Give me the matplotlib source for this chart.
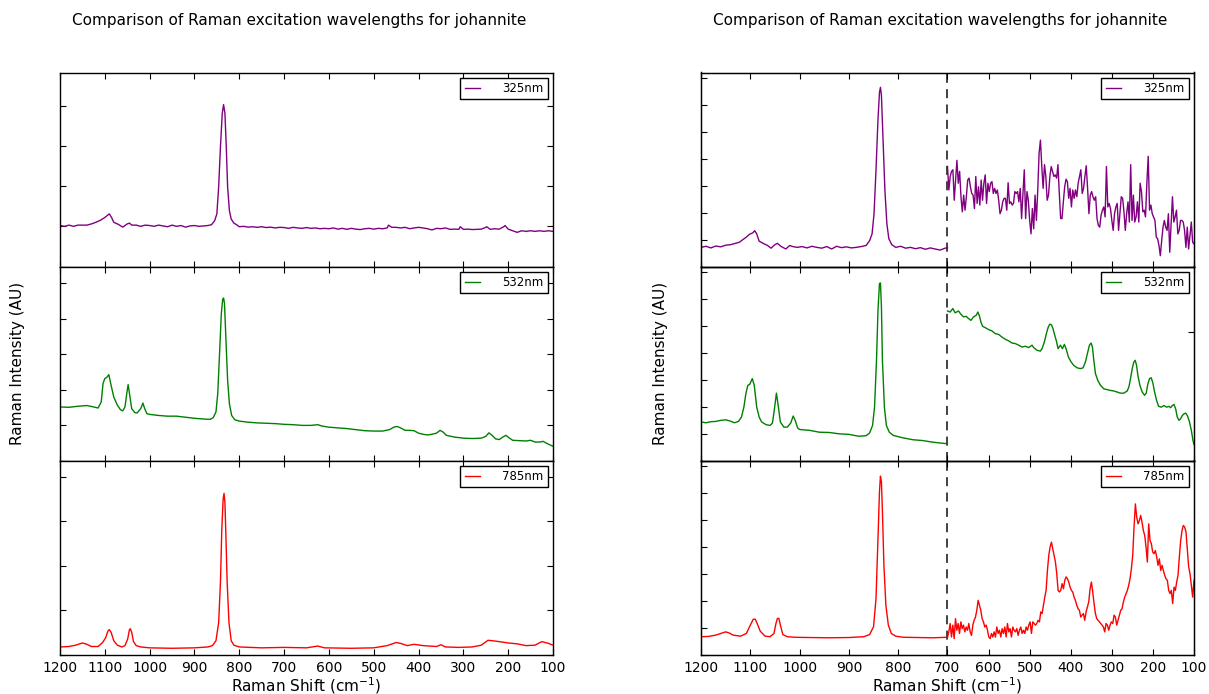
import numpy as np
import matplotlib
matplotlib.use("Agg")
import matplotlib.pyplot as plt
from matplotlib.ticker import MultipleLocator, NullFormatter

plt.rcParams['font.family'] = ['DejaVu Sans']

# ---------------- data (Raman shift in cm^-1, intensity in arbitrary units) -------------
shift_ticks = [1200, 1100, 1000, 900, 800, 700, 600, 500, 400, 300, 200, 100]
labels = ['325nm', '532nm', '785nm']
colors = ['purple', 'green', 'red']

# ---- left column: full spectra
l325_x = [1200, 1190, 1180, 1170, 1160, 1150, 1140, 1130, 1120, 1110, 1100, 1090, 1085, 1080, 1070,
          1060, 1050, 1045, 1040, 1030, 1020, 1010, 1000, 990, 980, 970, 960, 950, 940, 930, 920, 910,
          900, 890, 880, 870, 862, 855, 850, 846, 842, 838, 835, 832, 829, 826, 822, 818, 812, 806,
          800, 790, 780, 770, 760, 750, 740, 730, 720, 710, 700, 690, 680, 670, 660, 650, 640, 630,
          620, 610, 600, 590, 580, 570, 560, 550, 540, 530, 520, 510, 500, 490, 480, 470, 467, 460,
          450, 440, 430, 420, 410, 400, 390, 380, 370, 360, 350, 340, 330, 320, 310, 307, 300, 290,
          280, 270, 260, 250, 248, 240, 230, 220, 210, 207, 200, 190, 180, 170, 160, 150, 140, 130,
          120, 110, 100]
l325_y = [1.02, 1.00, 1.03, 1.00, 1.03, 1.03, 1.03, 1.06, 1.10, 1.15, 1.22, 1.31, 1.22, 1.10, 1.05,
          0.98, 1.06, 1.08, 1.03, 1.03, 1.00, 1.03, 1.02, 1.00, 1.03, 1.01, 0.99, 1.03, 1.00, 1.02,
          0.98, 1.01, 1.02, 1.00, 1.01, 1.02, 1.04, 1.14, 1.31, 1.98, 2.98, 3.81, 4.03, 3.81, 2.98,
          1.98, 1.39, 1.18, 1.08, 1.04, 0.99, 1.00, 0.98, 0.99, 0.975, 0.99, 0.97, 0.98, 0.96, 0.975,
          0.97, 0.95, 0.975, 0.96, 0.95, 0.97, 0.95, 0.96, 0.94, 0.95, 0.94, 0.96, 0.93, 0.95, 0.925,
          0.95, 0.93, 0.92, 0.94, 0.95, 0.93, 0.95, 0.94, 0.96, 1.03, 0.975, 0.975, 0.96, 0.975, 0.94,
          0.96, 0.975, 0.96, 0.94, 0.91, 0.95, 0.94, 0.96, 0.925, 0.93, 0.925, 0.99, 0.925, 0.93,
          0.92, 0.925, 0.93, 0.975, 0.99, 0.925, 0.94, 0.93, 0.99, 1.02, 0.93, 0.89, 0.85, 0.89,
          0.875, 0.89, 0.875, 0.89, 0.875, 0.89, 0.875]

l532_x = [1200, 1180, 1160, 1150, 1140, 1125, 1115, 1108, 1104, 1100, 1096, 1091, 1086, 1080, 1072,
          1065, 1060, 1055, 1051, 1048, 1045, 1040, 1033, 1028, 1020, 1015, 1011, 1006, 1000, 980,
          960, 940, 920, 900, 880, 865, 858, 852, 848, 844, 840, 837, 835, 833, 830, 826, 822, 817,
          810, 800, 780, 760, 740, 720, 700, 680, 660, 640, 625, 615, 600, 580, 560, 540, 520, 500,
          480, 465, 455, 448, 440, 430, 420, 410, 400, 390, 380, 370, 360, 352, 345, 338, 320, 300,
          280, 260, 250, 243, 236, 228, 220, 212, 205, 198, 190, 175, 160, 150, 140, 130, 122, 115, 100]
l532_y = [1.51, 1.50, 1.53, 1.54, 1.55, 1.51, 1.48, 1.65, 2.17, 2.31, 2.34, 2.42, 2.12, 1.79, 1.56,
          1.43, 1.40, 1.51, 1.89, 2.14, 1.89, 1.46, 1.35, 1.34, 1.46, 1.62, 1.46, 1.32, 1.30, 1.27,
          1.25, 1.25, 1.22, 1.19, 1.17, 1.16, 1.21, 1.37, 1.89, 3.02, 4.15, 4.55, 4.58, 4.43, 3.49,
          2.26, 1.60, 1.27, 1.15, 1.11, 1.08, 1.06, 1.05, 1.04, 1.02, 1.01, 0.99, 0.99, 1.01, 0.97,
          0.94, 0.92, 0.90, 0.87, 0.84, 0.83, 0.83, 0.87, 0.94, 0.96, 0.92, 0.85, 0.85, 0.84, 0.77,
          0.74, 0.72, 0.74, 0.77, 0.85, 0.80, 0.71, 0.66, 0.63, 0.62, 0.63, 0.68, 0.78, 0.71, 0.61,
          0.59, 0.66, 0.71, 0.64, 0.57, 0.56, 0.55, 0.57, 0.52, 0.52, 0.54, 0.49, 0.40]

l785_x = [1200, 1180, 1165, 1150, 1140, 1130, 1115, 1105, 1098, 1093, 1090, 1086, 1080, 1072, 1062,
          1055, 1049, 1045, 1043, 1040, 1036, 1030, 1020, 1000, 950, 900, 870, 860, 852, 846, 842,
          839, 836, 834, 832, 830, 827, 823, 818, 812, 800, 750, 700, 650, 625, 610, 550, 500, 470,
          450, 440, 425, 410, 390, 360, 350, 340, 310, 280, 260, 245, 235, 220, 200, 180, 160, 140,
          125, 110, 100]
l785_y = [0.17, 0.18, 0.21, 0.26, 0.23, 0.18, 0.18, 0.27, 0.38, 0.53, 0.56, 0.50, 0.31, 0.21, 0.17,
          0.20, 0.35, 0.56, 0.58, 0.50, 0.29, 0.20, 0.17, 0.15, 0.14, 0.15, 0.17, 0.20, 0.31, 0.72,
          1.62, 2.82, 3.50, 3.63, 3.42, 2.74, 1.62, 0.72, 0.31, 0.21, 0.17, 0.15, 0.16, 0.15, 0.19,
          0.15, 0.14, 0.15, 0.20, 0.27, 0.25, 0.20, 0.23, 0.20, 0.18, 0.22, 0.17, 0.16, 0.17, 0.21,
          0.32, 0.31, 0.29, 0.26, 0.24, 0.20, 0.21, 0.29, 0.25, 0.21]

# ---- right column, 1200-700 cm^-1 part
r325_x = [1200, 1190, 1180, 1170, 1160, 1150, 1140, 1130, 1122, 1115, 1108, 1102, 1095, 1091, 1087,
          1082, 1072, 1065, 1058, 1050, 1045, 1038, 1028, 1020, 1014, 1005, 995, 985, 975, 965, 955,
          945, 935, 925, 915, 905, 895, 885, 875, 865, 858, 853, 849, 845, 841, 838, 836, 834, 831,
          827, 823, 819, 813, 805, 795, 785, 775, 765, 755, 745, 735, 725, 715, 705, 700]
r325_y = [0.71, 0.75, 0.69, 0.76, 0.73, 0.79, 0.81, 0.86, 0.90, 1.00, 1.09, 1.19, 1.25, 1.33, 1.21,
          0.94, 0.84, 0.78, 0.68, 0.81, 0.86, 0.75, 0.65, 0.78, 0.74, 0.71, 0.74, 0.69, 0.75, 0.71,
          0.68, 0.74, 0.65, 0.75, 0.70, 0.73, 0.69, 0.71, 0.74, 0.78, 0.96, 1.21, 1.96, 3.59, 5.46,
          6.46, 6.65, 6.34, 4.84, 2.84, 1.59, 1.03, 0.81, 0.71, 0.75, 0.68, 0.71, 0.66, 0.70, 0.64,
          0.69, 0.65, 0.61, 0.68, 0.69]

r532_x = [1200, 1190, 1180, 1170, 1160, 1150, 1140, 1132, 1124, 1118, 1113, 1109, 1105, 1101, 1096,
          1092, 1087, 1082, 1077, 1068, 1060, 1055, 1051, 1047, 1043, 1039, 1032, 1025, 1018, 1013,
          1009, 1004, 1000, 980, 960, 940, 920, 900, 880, 865, 858, 852, 848, 844, 841, 838, 836,
          834, 832, 828, 824, 818, 810, 790, 770, 750, 730, 710, 700]
r532_y = [1.43, 1.40, 1.44, 1.45, 1.49, 1.51, 1.46, 1.40, 1.45, 1.61, 1.98, 2.48, 2.79, 2.83, 3.04,
          2.79, 1.98, 1.61, 1.43, 1.33, 1.30, 1.39, 1.92, 2.50, 1.98, 1.43, 1.24, 1.24, 1.39, 1.65,
          1.49, 1.21, 1.15, 1.12, 1.05, 1.04, 0.99, 0.97, 0.90, 0.92, 1.02, 1.30, 1.98, 3.72, 5.58,
          6.57, 6.59, 5.70, 3.72, 1.98, 1.30, 1.05, 0.93, 0.84, 0.77, 0.74, 0.68, 0.64, 0.62]

r785_x = [1200, 1185, 1170, 1160, 1150, 1143, 1135, 1120, 1108, 1100, 1094, 1090, 1086, 1080, 1070,
          1060, 1052, 1048, 1045, 1042, 1039, 1034, 1025, 1010, 980, 940, 900, 870, 858, 850, 845,
          841, 838, 836, 834, 832, 829, 825, 820, 814, 805, 790, 760, 730, 700]
r785_y = [0.66, 0.67, 0.72, 0.78, 0.84, 0.80, 0.72, 0.68, 0.78, 1.09, 1.31, 1.31, 1.15, 0.87, 0.68,
          0.66, 0.78, 1.15, 1.34, 1.34, 1.09, 0.74, 0.66, 0.64, 0.63, 0.62, 0.63, 0.66, 0.74, 1.03,
          2.08, 4.31, 6.04, 6.62, 6.41, 5.30, 3.32, 1.83, 1.09, 0.78, 0.68, 0.64, 0.63, 0.62, 0.64]

# ---- right column, magnified 700-100 cm^-1 part (evenly sampled from 700 down to 100)
m325_y = [3.71, 2.84, 3.34, 3.53, 3.59, 2.46, 3.21, 3.94, 3.09, 3.53, 2.59, 2.03, 2.65, 2.09, 2.59,
          3.21, 3.28, 2.96, 2.71, 2.65, 2.15, 3.34, 2.34, 2.96, 2.28, 3.21, 2.46, 3.09, 3.40, 2.34,
          3.09, 2.78, 3.09, 3.15, 2.71, 2.90, 2.71, 2.84, 2.46, 1.96, 2.09, 2.40, 2.53, 2.53, 2.09,
          3.11, 2.34, 2.40, 2.28, 2.34, 2.78, 2.71, 2.78, 2.40, 2.90, 1.78, 2.71, 3.59, 1.78, 2.78,
          2.46, 1.71, 1.21, 2.15, 1.40, 2.65, 1.71, 2.84, 4.21, 4.69, 3.71, 2.90, 3.78, 3.34, 2.46,
          2.65, 3.34, 3.71, 3.53, 3.34, 3.40, 3.28, 3.78, 2.71, 1.78, 1.78, 2.40, 2.96, 3.24, 3.15,
          2.53, 2.90, 2.21, 2.84, 2.53, 2.84, 2.59, 3.09, 3.34, 3.59, 2.71, 2.90, 3.34, 3.74, 2.90,
          1.96, 2.65, 2.78, 2.59, 2.46, 2.59, 1.78, 1.53, 1.46, 1.90, 2.09, 2.21, 1.84, 3.71, 2.21,
          2.34, 2.15, 1.71, 1.34, 1.96, 2.21, 2.34, 1.34, 1.96, 2.59, 2.53, 2.03, 1.34, 1.96, 2.40,
          1.65, 3.78, 1.71, 2.65, 1.65, 1.84, 2.40, 1.65, 3.09, 2.78, 2.03, 2.09, 1.84, 3.09, 4.09,
          2.09, 2.28, 1.96, 1.84, 1.71, 1.09, 1.03, 0.78, 0.40, 0.96, 1.46, 1.71, 1.46, 1.34, 1.96,
          0.53, 1.59, 2.59, 1.65, 1.84, 2.09, 1.21, 1.34, 1.71, 1.71, 1.65, 1.34, 0.71, 1.46, 0.65,
          1.15, 1.65, 0.90, 0.84]

m532_x = [700, 693.5, 687, 681.3, 673.2, 667.5, 661, 654.5, 648.8, 643.1, 636.6, 630.1, 626, 622,
          618.7, 614.6, 608.1, 600, 591.9, 583.7, 575.6, 567.5, 559.3, 551.2, 543.1, 535, 526.8,
          518.7, 510.6, 502.4, 494.3, 490.2, 482.1, 474, 469.9, 464.2, 459.3, 455.3, 451.2, 447.2,
          443.1, 439, 435, 430.9, 425.2, 420.3, 415.4, 410.6, 405.7, 399.2, 392.7, 384.6, 376.4,
          369.9, 364.2, 358.5, 354.5, 350.4, 347.2, 343.9, 339.8, 334.1, 327.6, 319.5, 311.4, 303.3,
          295.1, 287, 278.9, 270.7, 262.6, 258.5, 254.5, 250.4, 246.3, 243.1, 239.8, 236.6, 231.7,
          226, 220.3, 216.3, 212.2, 208.1, 204.1, 200, 195.9, 191.1, 186.2, 179.7, 173.2, 166.7, 161,
          156.9, 152.8, 148.8, 144.7, 140.7, 136.6, 132.5, 128.5, 124.4, 120.3, 116.3, 111.4, 106.5,
          102.4, 100]
m532_y = [5.55, 5.51, 5.64, 5.48, 5.55, 5.43, 5.33, 5.35, 5.27, 5.20, 5.33, 5.39, 5.51, 5.35, 5.14,
          4.98, 4.93, 4.86, 4.81, 4.71, 4.68, 4.58, 4.50, 4.44, 4.36, 4.34, 4.28, 4.21, 4.24, 4.19,
          4.28, 4.19, 4.09, 4.06, 4.15, 4.40, 4.71, 4.93, 5.06, 5.04, 4.89, 4.65, 4.44, 4.15, 4.28,
          4.15, 4.31, 4.11, 3.84, 3.66, 3.53, 3.44, 3.41, 3.44, 3.66, 4.03, 4.28, 4.36, 4.21, 3.72,
          3.22, 2.97, 2.79, 2.66, 2.63, 2.60, 2.58, 2.54, 2.50, 2.50, 2.58, 2.73, 3.04, 3.41, 3.66,
          3.72, 3.53, 3.16, 2.79, 2.54, 2.42, 2.50, 2.85, 3.04, 3.07, 2.87, 2.54, 2.23, 2.01, 1.98,
          2.04, 1.98, 2.01, 1.96, 2.04, 2.08, 1.92, 1.61, 1.49, 1.55, 1.67, 1.73, 1.76, 1.67, 1.46,
          1.12, 0.74, 0.59]

m785_y = [0.65, 0.84, 1.15, 0.65, 1.09, 0.59, 1.33, 0.90, 1.15, 0.78, 1.21, 0.96, 1.09, 0.84, 1.02,
          0.90, 1.15, 0.84, 0.71, 1.09, 1.27, 1.39, 1.64, 2.01, 1.83, 1.64, 1.33, 1.21, 1.02, 1.09,
          0.90, 0.65, 0.59, 0.78, 0.65, 0.84, 0.65, 1.02, 0.78, 0.90, 0.65, 0.96, 0.78, 1.02, 0.65,
          1.15, 0.84, 0.96, 0.65, 1.02, 0.90, 0.84, 0.96, 0.71, 0.90, 1.02, 0.78, 0.90, 0.78, 1.02,
          0.90, 1.09, 1.21, 0.78, 1.21, 1.15, 1.09, 1.15, 1.27, 1.21, 1.58, 1.52, 1.83, 2.13, 2.38,
          3.12, 3.68, 3.99, 4.17, 3.92, 3.68, 3.43, 3.00, 2.38, 2.32, 2.38, 2.63, 2.44, 2.75, 2.88,
          2.81, 2.69, 2.50, 2.38, 2.32, 2.13, 2.01, 1.83, 1.70, 1.64, 1.39, 1.46, 1.52, 1.27, 1.58,
          1.76, 1.95, 2.44, 2.69, 2.32, 1.89, 1.52, 1.33, 1.27, 1.21, 1.15, 1.09, 1.02, 0.84, 1.15,
          1.09, 0.90, 1.09, 1.21, 1.15, 1.46, 1.39, 1.09, 1.27, 1.46, 1.64, 1.70, 1.95, 2.13, 2.26,
          2.38, 2.57, 2.81, 3.18, 3.68, 4.73, 5.59, 5.10, 4.85, 4.97, 5.16, 4.91, 4.60, 4.42, 3.99,
          3.43, 4.85, 4.23, 4.11, 3.80, 3.74, 3.86, 3.62, 3.31, 3.55, 3.12, 3.31, 3.12, 2.94, 2.81,
          2.75, 2.38, 2.26, 2.38, 1.89, 2.50, 2.38, 2.69, 2.94, 3.62, 4.23, 4.60, 4.79, 4.73, 4.54,
          3.92, 3.25, 3.00, 2.57, 2.13, 2.75]

left_data = [(l325_x, l325_y), (l532_x, l532_y), (l785_x, l785_y)]
right_data = [(r325_x, r325_y), (r532_x, r532_y), (r785_x, r785_y)]
mag_data = [(np.linspace(700, 100, len(m325_y)), m325_y),
            (m532_x, m532_y),
            (np.linspace(700, 100, len(m785_y)), m785_y)]
left_ylim_top = [4.83, 5.47, 4.37]
right_ylim_top = 7.2
twin_ticks = [[], [4.77], []]

title = 'Comparison of Raman excitation wavelengths for johannite'
xlabel = 'Raman Shift (cm$^{-1}$)'
ylabel = 'Raman Intensity (AU)'


# piecewise axis for right column: 1200-700 occupies half, 700-100 the other half
def fwd(s):
    s = np.asarray(s, dtype=float)
    return np.where(s >= 700, s, 700 - (700 - s) * 5.0 / 6.0)


def inv(u):
    u = np.asarray(u, dtype=float)
    return np.where(u >= 700, u, 700 - (700 - u) * 6.0 / 5.0)


W, H = 1209, 694
fig = plt.figure(figsize=(W / 100, H / 100), dpi=100, facecolor='white')

top_px, bot_px = 72.5, 654.5
panel_h = (bot_px - top_px) / 3
cols = [(60, 553), (701, 1194)]


def style_axis(ax, right=True):
    ax.tick_params(direction='in', length=4, width=0.8, top=True, right=right,
                   labelleft=False, labelright=False, labelsize=10, pad=5)
    for sp in ax.spines.values():
        sp.set_linewidth(1.0)
        sp.set_color('black')


for ci, (x0, x1) in enumerate(cols):
    for ri in range(3):
        y_top = top_px + ri * panel_h
        rect = [x0 / W, 1 - (y_top + panel_h) / H, (x1 - x0) / W, panel_h / H]
        ax = fig.add_axes(rect)
        if ci == 0:
            xs, ys = left_data[ri]
            line, = ax.plot(xs, ys, color=colors[ri], lw=1.0, label=labels[ri])
            ax.set_ylim(0, left_ylim_top[ri])
            style_axis(ax, right=True)
        else:
            ax.set_xscale('function', functions=(fwd, inv))
            xs, ys = right_data[ri]
            line, = ax.plot(xs, ys, color=colors[ri], lw=1.0, label=labels[ri])
            ax.set_ylim(0, right_ylim_top)
            style_axis(ax, right=False)
            tw = ax.twinx()
            mx, my = mag_data[ri]
            tw.plot(mx, my, color=colors[ri], lw=1.0)
            tw.set_ylim(0, right_ylim_top)
            tw.set_yticks(twin_ticks[ri])
            tw.tick_params(direction='in', length=4, width=0.8, labelright=False)
            tw.axvline(700, color='#333333', ls=(0, (5, 3.5)), lw=1.3)
        ax.yaxis.set_major_locator(MultipleLocator(1))
        ax.set_xlim(1200, 100)
        ax.set_xticks(shift_ticks)
        if ri < 2:
            ax.xaxis.set_major_formatter(NullFormatter())
        else:
            ax.set_xlabel(xlabel, fontsize=11, labelpad=0)
        leg = ax.legend(handles=[line], loc='upper right', fontsize=8.5, frameon=True,
                        fancybox=False, framealpha=1, edgecolor='black',
                        handlelength=1.3, handletextpad=1.9, borderpad=0.35,
                        borderaxespad=0.45)
        leg.get_frame().set_linewidth(1.0)
        if ci == 1:
            leg.set_zorder(10)
            ax.set_zorder(tw.get_zorder() + 1)
            ax.patch.set_visible(False)

fig.text(299.5 / W, 1 - 20 / H, title, ha='center', va='center', fontsize=11)
fig.text(940.5 / W, 1 - 20 / H, title, ha='center', va='center', fontsize=11)
fig.text(18 / W, 1 - 363 / H, ylabel, ha='center', va='center', rotation=90, fontsize=11)
fig.text(660 / W, 1 - 363 / H, ylabel, ha='center', va='center', rotation=90, fontsize=11)

fig.savefig('out.png', dpi=100, facecolor='white')
